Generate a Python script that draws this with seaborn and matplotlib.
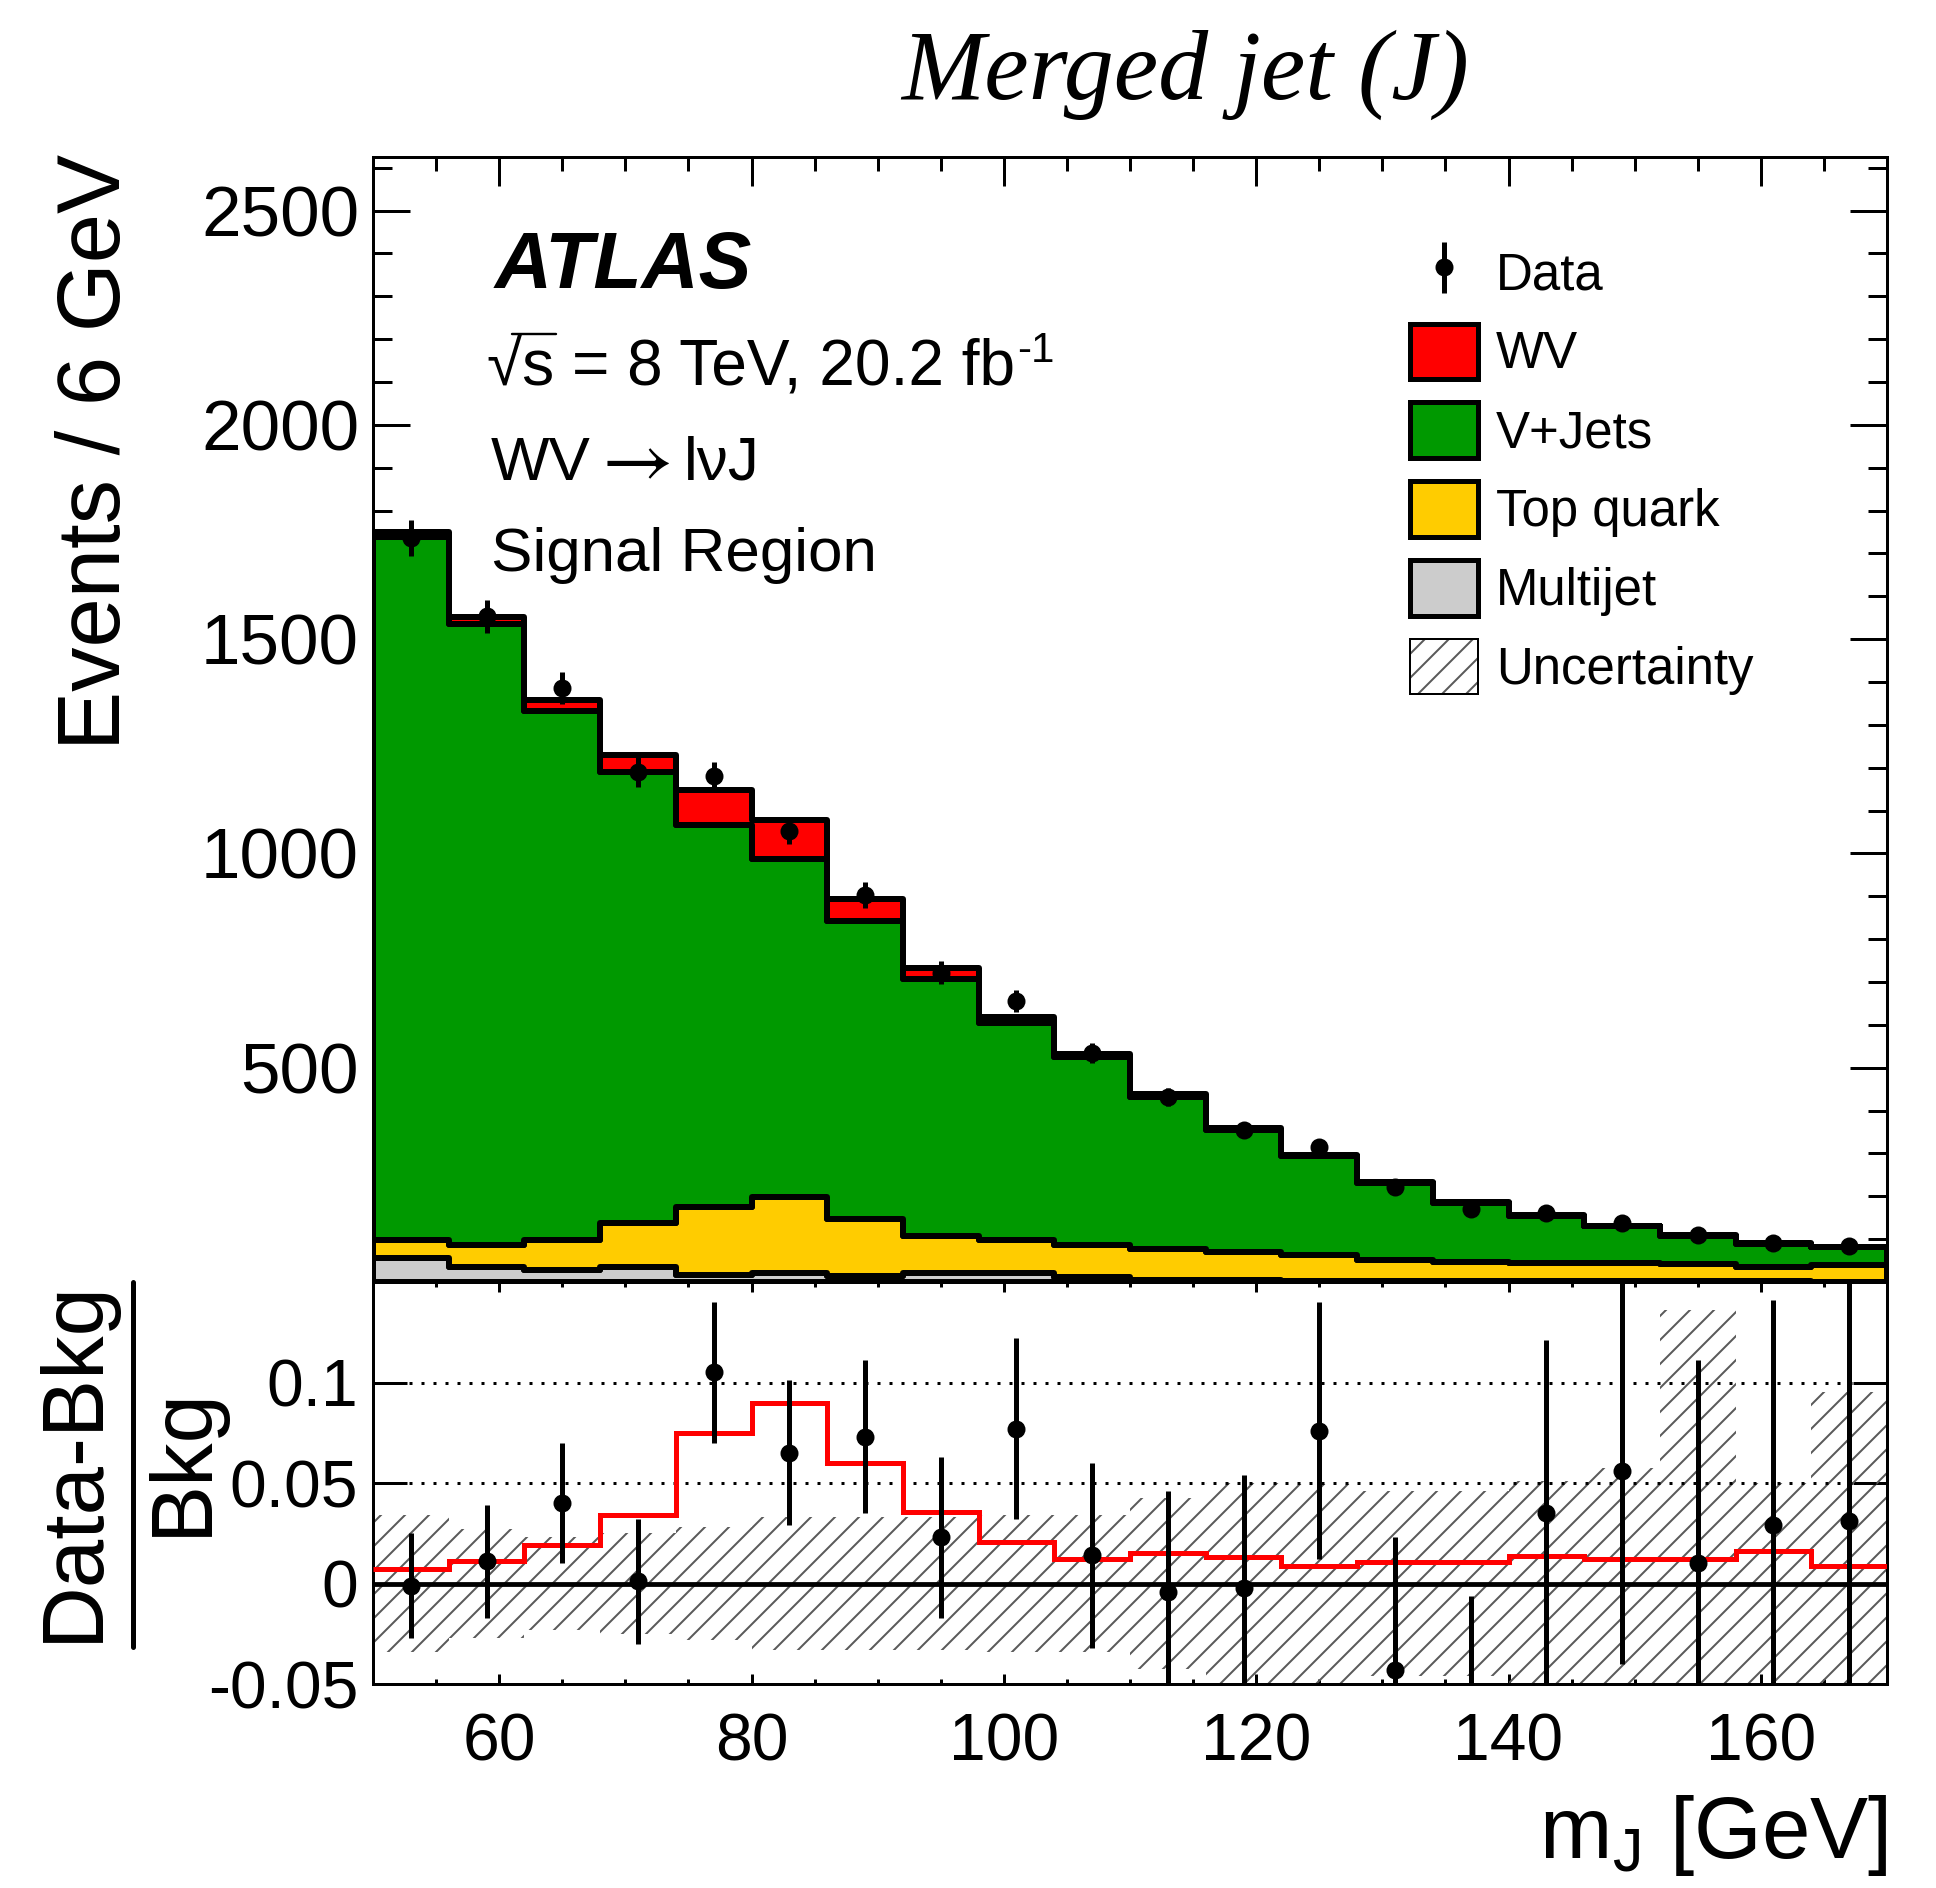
import numpy as np
import pandas as pd
import matplotlib
matplotlib.use("Agg")
import matplotlib.pyplot as plt
from matplotlib.patches import Rectangle
from matplotlib.lines import Line2D
from matplotlib.legend_handler import HandlerTuple
from matplotlib.ticker import MultipleLocator, FixedLocator, FixedFormatter, NullLocator
import seaborn as sns

# ---------------- data ----------------
bin_edges = np.arange(50, 171, 6)          # m_J bins [GeV]
bin_centers = (bin_edges[:-1] + bin_edges[1:]) / 2

wv        = [12, 17, 25, 40, 80, 89, 50.5, 25, 12.5, 6.5, 6.5, 4.6, 2.5, 2.4, 2.0, 2.1, 1.5, 1.3, 1.4, 0.7]
vjets     = [1639, 1447, 1233, 1052, 891, 789, 697, 600, 507, 437, 354, 285, 229, 179, 137, 109, 85, 67, 54, 42]
top_quark = [44, 53.5, 70, 103, 160, 179, 133, 86, 76, 76.5, 74, 65, 61, 49, 45, 43, 43, 39.5, 33.5, 38]
multijet  = [55, 34, 29, 35, 16, 20, 13, 21, 22, 11, 4, 4, 3, 3, 2, 2, 2, 1.5, 1.5, 1]

data     = [1737, 1553, 1386, 1190, 1180, 1053, 903, 722, 655, 534, 431, 355, 316, 221, 171, 160, 137, 110, 91, 84]
data_err = [42, 39, 37, 35, 34, 32, 30, 27, 26, 23, 21, 19, 18, 15, 13, 13, 12, 10.5, 9.5, 9]

ratio_data = [-0.001, 0.011, 0.040, 0.001, 0.105, 0.065, 0.073, 0.023, 0.077, 0.014,
              -0.004, -0.002, 0.076, -0.043, -0.078, 0.035, 0.056, 0.010, 0.029, 0.031]
ratio_err  = [0.026, 0.028, 0.030, 0.031, 0.035, 0.036, 0.038, 0.040, 0.045, 0.046,
              0.050, 0.056, 0.064, 0.066, 0.072, 0.086, 0.096, 0.101, 0.112, 0.120]
ratio_wv   = [0.007, 0.011, 0.019, 0.034, 0.075, 0.090, 0.060, 0.0355, 0.0207, 0.012,
              0.015, 0.013, 0.0086, 0.0106, 0.0106, 0.0137, 0.012, 0.012, 0.016, 0.0086]
ratio_unc  = [0.034, 0.027, 0.023, 0.025, 0.028, 0.033, 0.033, 0.033, 0.034, 0.034,
              0.0425, 0.050, 0.0495, 0.046, 0.046, 0.051, 0.0575, 0.136, 0.050, 0.0955]

processes = ["WV", "V+Jets", "Top quark", "Multijet"]
proc_colors = {"WV": "#ff0000", "V+Jets": "#009900", "Top quark": "#ffcc00", "Multijet": "#cccccc"}

y_ticks_top = [500, 1000, 1500, 2000, 2500]
y_ticks_ratio = [-0.05, 0, 0.05, 0.1]
y_ticklabels_ratio = ["-0.05", "0", "0.05", "0.1"]

# ---------------- style ----------------
sns.set_style("ticks")
DPI = 144
plt.rcParams.update({
    "font.family": ["Liberation Sans", "DejaVu Sans"],
    "mathtext.fontset": "custom",
    "mathtext.rm": "Liberation Sans",
    "mathtext.it": "Liberation Sans:italic",
    "mathtext.bf": "Liberation Sans:bold",
    "hatch.linewidth": 1.0,
    "hatch.color": "#5a5a5a",
    "axes.linewidth": 1.5,
    "axes.edgecolor": "black",
    "text.color": "black",
    "axes.labelcolor": "black",
    "xtick.color": "black",
    "ytick.color": "black",
    "xtick.labelcolor": "black",
    "ytick.labelcolor": "black",
})

fig = plt.figure(figsize=(1936 / DPI, 1888 / DPI), dpi=DPI)
ax = fig.add_axes([0.19267, 0.32097, 0.78202, 0.59587])
axr = fig.add_axes([0.19267, 0.10805, 0.78202, 0.21292])

# ---------------- upper panel: stacked histogram ----------------
df = pd.DataFrame({
    "mJ": np.tile(bin_centers, len(processes)),
    "events": np.concatenate([wv, vjets, top_quark, multijet]),
    "process": np.repeat(processes, len(bin_centers)),
})
sns.histplot(data=df, x="mJ", weights="events", hue="process", hue_order=processes,
             multiple="stack", binwidth=6, binrange=(50, 170), element="step", fill=True,
             palette=proc_colors, alpha=1, edgecolor="black", linewidth=3,
             legend=False, ax=ax)

h_data = ax.errorbar(bin_centers, data, yerr=data_err, fmt="o", color="black",
                     ms=8, elinewidth=2.5, capsize=0, zorder=10)

ax.set_xlim(50, 170)
ax.set_ylim(0, 2625)
ax.set_xlabel("")
ax.set_ylabel("")
ax.yaxis.set_major_locator(FixedLocator(y_ticks_top))
ax.yaxis.set_minor_locator(MultipleLocator(100))
ax.xaxis.set_major_locator(MultipleLocator(20))
ax.xaxis.set_minor_locator(MultipleLocator(5))
ax.tick_params(which="both", direction="in", top=True, right=True, labelbottom=False)
ax.tick_params(axis="x", which="major", length=14.5, width=1.5)
ax.tick_params(axis="x", which="minor", length=7, width=1.5)
ax.tick_params(axis="y", which="major", length=18.5, width=1.5, labelsize=35.5, pad=7)
ax.tick_params(axis="y", which="minor", length=9.5, width=1.5)

# legend
h_patches = [Rectangle((0, 0), 1, 1, facecolor=proc_colors[p], edgecolor="black", linewidth=2.5)
             for p in processes]
h_unc = (Rectangle((0, 0), 1, 1, facecolor="white", edgecolor="#5a5a5a", linewidth=0, hatch="//"),
         Rectangle((0, 0), 1, 1, facecolor="none", edgecolor="black", linewidth=1.0))
ax.legend(handles=[h_data] + h_patches + [h_unc],
          labels=["Data"] + processes + ["Uncertainty"],
          loc="upper left", bbox_to_anchor=(0.685, 0.922), frameon=False,
          fontsize=25.5, handlelength=1.33, handleheight=1.3, labelspacing=0.45,
          handletextpad=0.35, borderpad=0, borderaxespad=0, numpoints=1,
          handler_map={tuple: HandlerTuple(ndivide=1, pad=0)})

# ---------------- lower panel: ratio ----------------
unc = np.asarray(ratio_unc)
axr.bar(bin_centers, 2 * unc, bottom=-unc, width=6, facecolor="none",
        edgecolor="#5a5a5a", linewidth=0, hatch="//", zorder=1)
axr.axhline(0.05, color="black", lw=1.5, ls=(0, (1, 3)), zorder=2)
axr.axhline(0.1, color="black", lw=1.5, ls=(0, (1, 3)), zorder=2)
axr.axhline(0, color="black", lw=2.4, zorder=3)
axr.stairs(ratio_wv, bin_edges, baseline=None, color="#ff0000", lw=2.5, zorder=4)
axr.errorbar(bin_centers, ratio_data, yerr=ratio_err, fmt="o", color="black",
             ms=8, elinewidth=2.5, capsize=0, zorder=10)

axr.set_xlim(50, 170)
axr.set_ylim(-0.05, 0.15)
axr.yaxis.set_major_locator(FixedLocator(y_ticks_ratio))
axr.yaxis.set_major_formatter(FixedFormatter(y_ticklabels_ratio))
axr.yaxis.set_minor_locator(NullLocator())
axr.xaxis.set_major_locator(MultipleLocator(20))
axr.xaxis.set_minor_locator(MultipleLocator(5))
axr.tick_params(which="both", direction="in", top=True, right=True)
axr.tick_params(axis="x", which="major", length=5, width=1.5, labelsize=33, pad=14)
axr.tick_params(axis="x", which="minor", length=2.5, width=1.5)
axr.tick_params(axis="y", which="major", length=17, width=1.5, labelsize=33, pad=7.5)

# ---------------- texts ----------------
W, H = 1936, 1888
fig.text(1185 / W, 1 - 99 / H, "Merged jet (J)", fontsize=50,
         family=["Liberation Serif", "DejaVu Serif"], style="italic",
         ha="center", va="baseline")
fig.text(495 / W, 1 - 288 / H, "ATLAS", fontsize=39.5, fontweight="bold",
         fontstyle="italic", va="baseline")
# sqrt(s) line
fig.text(487 / W, 1 - 385 / H, "√s = 8 TeV, 20.2 fb", fontsize=32, va="baseline")
fig.add_artist(Line2D([512 / W, 556 / W], [1 - 334 / H, 1 - 334 / H],
                      transform=fig.transFigure, color="black", lw=1.2))
fig.text(1017 / W, 1 - 362 / H, "-1", fontsize=21, va="baseline")

# WV -> l nu J
fig.text(491 / W, 1 - 480 / H, "WV", fontsize=31, va="baseline")
fig.text(590 / W, 1 - 481 / H, r"$\rightarrow$", fontsize=39, va="baseline",
         math_fontfamily="stix")
fig.text(684 / W, 1 - 480 / H, "lνJ", fontsize=31, va="baseline")

fig.text(491 / W, 1 - 571 / H, "Signal Region", fontsize=31, va="baseline")

fig.text(97 / W, 1 - 154 / H, "Events / 6 GeV", rotation=90, fontsize=44.3,
         ha="center", va="top")
fig.text(1887 / W, 1 - 1858 / H, r"m$_{\mathrm{J}}$ [GeV]", fontsize=43.5,
         ha="right", va="baseline")

# ratio y label as a fraction
fig.text(74 / W, 1 - 1461 / H, "Data-Bkg", rotation=90, fontsize=43.5,
         ha="center", va="center")
fig.text(183 / W, 1 - 1461 / H, "Bkg", rotation=90, fontsize=43.5,
         ha="center", va="center")
fig.add_artist(Line2D([133 / W, 133 / W], [1 - 1282 / H, 1 - 1647 / H],
                      transform=fig.transFigure, color="black", lw=2.5))

fig.savefig("out.png", dpi=DPI)
